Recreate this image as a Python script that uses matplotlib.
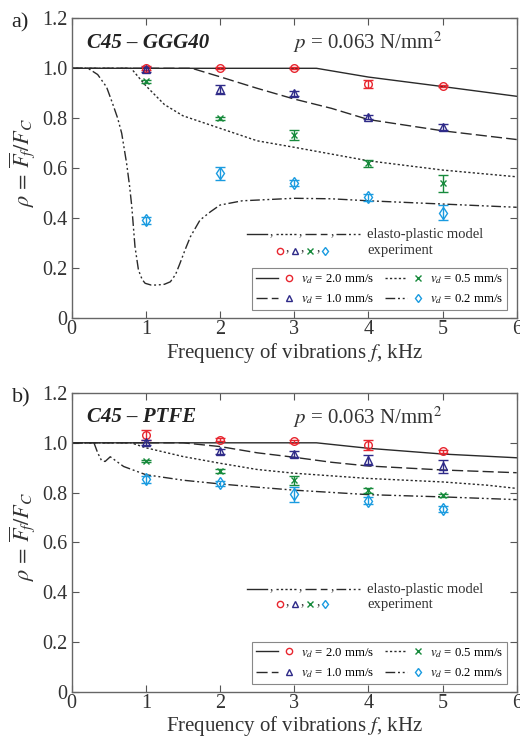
import numpy as np
import matplotlib
matplotlib.use("Agg")
import matplotlib.pyplot as plt
from matplotlib.lines import Line2D
from matplotlib.legend_handler import HandlerBase

plt.rcParams['font.family'] = ['Liberation Serif', 'DejaVu Serif']
plt.rcParams['mathtext.fontset'] = 'stix'

# ---- data ----
speeds = ['2.0', '1.0', '0.5', '0.2']
f_exp = [1, 2, 3, 4, 5]

# panel a) C45 - GGG40, experiment
a_rho = [
    [1.003, 1.000, 1.000, 0.937, 0.929],
    [0.996, 0.916, 0.900, 0.804, 0.766],
    [0.949, 0.800, 0.733, 0.620, 0.540],
    [0.392, 0.580, 0.540, 0.484, 0.422],
]
a_err = [
    [0.008, 0.004, 0.004, 0.016, 0.005],
    [0.010, 0.018, 0.010, 0.008, 0.013],
    [0.006, 0.007, 0.020, 0.015, 0.035],
    [0.015, 0.025, 0.012, 0.015, 0.030],
]
# panel a) model curves
a_mf = [
    [0, 3.3, 4, 5, 6],
    [0, 1.62, 2, 2.5, 3, 3.5, 4, 5, 6],
    [0, 0.8, 0.9, 1, 1.25, 1.5, 2, 2.5, 3, 4, 5, 6],
    [0, 0.22, 0.35, 0.47, 0.55, 0.62, 0.674, 0.74, 0.78, 0.81, 0.853, 0.9,
     0.95, 0.99, 1.07, 1.15, 1.25, 1.33, 1.4, 1.46, 1.53, 1.6, 1.73, 1.87,
     2.0, 2.3, 3.0, 3.5, 4.0, 5.0, 6.0],
]
a_mr = [
    [1, 1, 0.965, 0.927, 0.888],
    [1, 1, 0.966, 0.92, 0.877, 0.84, 0.795, 0.75, 0.715],
    [1, 1, 0.965, 0.93, 0.855, 0.81, 0.76, 0.71, 0.684, 0.63, 0.593, 0.566],
    [1, 1, 0.975, 0.925, 0.86, 0.8, 0.74, 0.62, 0.53, 0.447, 0.287, 0.193,
     0.155, 0.14, 0.133, 0.133, 0.136, 0.146, 0.175, 0.22, 0.275, 0.326, 0.393, 0.426,
     0.453, 0.47, 0.48, 0.478, 0.47, 0.457, 0.444],
]

# panel b) C45 - PTFE, experiment
b_rho = [
    [1.030, 1.012, 1.006, 0.990, 0.966],
    [1.003, 0.967, 0.954, 0.931, 0.905],
    [0.927, 0.887, 0.850, 0.810, 0.789],
    [0.853, 0.837, 0.793, 0.768, 0.733],
]
b_err = [
    [0.020, 0.006, 0.005, 0.020, 0.006],
    [0.010, 0.010, 0.012, 0.020, 0.025],
    [0.005, 0.007, 0.018, 0.010, 0.005],
    [0.015, 0.010, 0.030, 0.013, 0.012],
]
b_mf = [
    [0, 3.3, 4, 5, 6],
    [0, 1.5, 2, 2.5, 3, 3.5, 4, 5, 6],
    [0, 0.8, 1, 1.5, 2, 2.5, 3, 4, 5, 5.6, 6],
    [0, 0.3, 0.35, 0.4, 0.45, 0.52, 0.7, 1, 1.5, 2, 2.5, 3, 4, 5, 6],
]
b_mr = [
    [1, 1, 0.978, 0.955, 0.94],
    [1, 1, 0.985, 0.96, 0.942, 0.922, 0.907, 0.891, 0.88],
    [1, 1, 0.98, 0.945, 0.918, 0.893, 0.878, 0.857, 0.843, 0.83, 0.817],
    [1, 1, 0.96, 0.93, 0.925, 0.944, 0.905, 0.872, 0.85, 0.835, 0.822, 0.81,
     0.792, 0.783, 0.772],
]

colors = ['#e8262f', '#2e2a88', '#178a3c', '#1a9be0']
markers = ['o', '^', 'x', 'd']
msizes = [5.5, 5.5, 5, 6]
styles = ['-', (0, (8, 3)), (0, (1.6, 1.6)), (0, (7, 2, 1.4, 2, 1.4, 2))]
line_col = '#2a2a2a'
txt_col = '#333333'


class LineMarkerHandler(HandlerBase):
    # legend entry: short line, then the marker to its right
    def create_artists(self, legend, orig_handle, xdescent, ydescent,
                       width, height, fontsize, trans):
        ln, mk = orig_handle
        y = height / 2 - ydescent
        l = Line2D([-xdescent, -xdescent + 0.6 * width], [y, y])
        l.update_from(ln)
        m = Line2D([-xdescent + 0.9 * width], [y])
        m.update_from(mk)
        l.set_transform(trans)
        m.set_transform(trans)
        return [l, m]


fig = plt.figure(figsize=(5.2, 7.44), dpi=100)
ax_a = fig.add_axes([0.1379, 0.5722, 0.8558, 0.4032])
ax_b = fig.add_axes([0.1379, 0.0699, 0.8558, 0.4019])


def draw_key(ax, y_line, y_mark):
    # small "elasto-plastic model / experiment" key
    segs = [(0.393, 0.438), (0.459, 0.506), (0.524, 0.573), (0.595, 0.648)]
    key_order = [0, 2, 1, 3]
    for (x0, x1), k in zip(segs, key_order):
        ax.plot([x0, x1], [y_line, y_line], transform=ax.transAxes,
                color=line_col, lw=1.0, ls=styles[k], clip_on=False)
    for xc in [0.448, 0.514, 0.585]:
        ax.text(xc, y_line + 0.01, ',', transform=ax.transAxes,
                fontsize=10, ha='center', va='center', color=txt_col)
    ax.text(0.664, y_line, 'elasto-plastic model', transform=ax.transAxes,
            fontsize=10.5, va='center', color=txt_col)
    mx = [0.468, 0.502, 0.536, 0.569]
    for x, c, m in zip(mx, colors, markers):
        ax.plot([x], [y_mark], transform=ax.transAxes, marker=m, ms=4.5,
                mfc='none', mec=c, mew=1.0, ls='none', clip_on=False)
    for xc in [0.485, 0.519, 0.553]:
        ax.text(xc, y_mark + 0.01, ',', transform=ax.transAxes,
                fontsize=10, ha='center', va='center', color=txt_col)
    ax.text(0.664, y_mark, 'experiment', transform=ax.transAxes,
            fontsize=10.5, va='center', color=txt_col)


def draw_panel(ax, tag, pair, rho, err, mf, mr, key_y):
    handles = []
    for i in range(4):
        ax.plot(mf[i], mr[i], color=line_col, lw=1.0, ls=styles[i])
        ax.errorbar(f_exp, rho[i], yerr=err[i], fmt=markers[i], ms=msizes[i],
                    mfc='none', mec=colors[i], mew=1.0, ecolor=colors[i],
                    elinewidth=1.0, capsize=3.5, capthick=1.0, zorder=3)
        hl = Line2D([], [], color=line_col, lw=1.0, ls=styles[i])
        hm = Line2D([], [], marker=markers[i], ms=4.5, mfc='none',
                    mec=colors[i], mew=1.0, ls='none')
        handles.append((hl, hm))
    labels = [r'$v_d$ = %s mm/s' % s for s in speeds]
    leg = ax.legend(handles, labels, ncol=2, loc='lower right',
                    bbox_to_anchor=(0.979, 0.028), borderaxespad=0,
                    handler_map={tuple: LineMarkerHandler()},
                    handlelength=2.9, fontsize=9.2, fancybox=False,
                    edgecolor='#888888', framealpha=1, columnspacing=0.8,
                    labelspacing=0.5, handletextpad=0.65, borderpad=0.3)
    leg.get_frame().set_linewidth(0.8)
    draw_key(ax, key_y[0], key_y[1])

    ax.set_xlim(0, 6)
    ax.set_ylim(0, 1.2)
    ax.set_xticks(range(7))
    ax.set_yticks([0, 0.2, 0.4, 0.6, 0.8, 1.0, 1.2])
    ax.set_yticklabels(['0', '0.2', '0.4', '0.6', '0.8', '1.0', '1.2'])
    ax.tick_params(direction='in', top=True, right=True, length=5,
                   labelsize=14.5, color='#555555', labelcolor=txt_col)
    ax.tick_params(axis='x', pad=1.5)
    ax.tick_params(axis='y', pad=3)
    for sp in ax.spines.values():
        sp.set_color('#666666')
        sp.set_linewidth(1.0)
    ax.set_xlabel(r'Frequency of vibrations $f$, kHz', fontsize=15,
                  color=txt_col, labelpad=1)
    ax.set_ylabel(r'$\rho\,=\,\overline{F}_{\!f}/F_C$', fontsize=16,
                  color=txt_col)
    ax.yaxis.set_label_coords(-0.078, 0.52)
    ax.text(0.21, 1.103, pair, fontsize=15, fontweight='bold', style='italic',
            va='center', color='#222222')
    ax.text(2.99, 1.103, r'$p$ = 0.063 N/mm$^2$', fontsize=15, va='center',
            color=txt_col)
    ax.text(-0.135, 0.985, tag, transform=ax.transAxes, fontsize=16,
            va='center', ha='left', color='#222222')


draw_panel(ax_a, 'a)', 'C45 – GGG40', a_rho, a_err, a_mf, a_mr, (0.28, 0.225))
draw_panel(ax_b, 'b)', 'C45 – PTFE', b_rho, b_err, b_mf, b_mr, (0.343, 0.293))

fig.savefig('out.png', dpi=100)
